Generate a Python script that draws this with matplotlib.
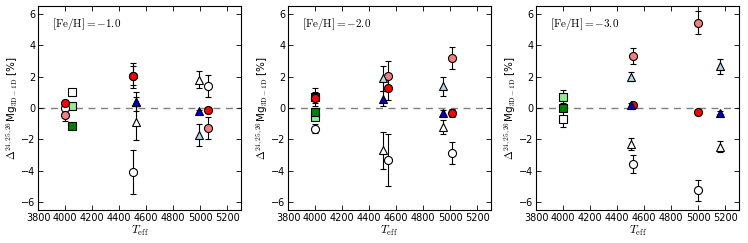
import matplotlib
matplotlib.use("Agg")
import matplotlib.pyplot as plt
import numpy as np

plt.rcParams['font.family'] = ['DejaVu Sans']
plt.rcParams['mathtext.fontset'] = 'cm'
plt.rcParams['xtick.direction'] = 'in'
plt.rcParams['ytick.direction'] = 'in'
plt.rcParams['xtick.top'] = True
plt.rcParams['ytick.right'] = True

feh_labels = ["-1.0", "-2.0", "-3.0"]

# ---- Panel 1: [Fe/H] = -1.0 ----
p1_circ_T = [4000, 4500, 5060]
p1_circ_open = [0.0, -4.1, 1.4]
p1_circ_open_err = [0.3, 1.4, 0.7]
p1_circ_pink = [-0.42, 2.05, -1.28]
p1_circ_pink_err = [0.4, 0.6, 0.72]
p1_circ_red = [0.32, 2.05, -0.12]
p1_circ_red_err = [0.2, 0.8, 0.15]
p1_tri_T = [4525, 4990]
p1_tri_open = [-0.88, 1.8]
p1_tri_open_err = [1.15, 0.55]
p1_tri_lb = [0.4, -1.72]
p1_tri_lb_err = [0.6, 0.68]
p1_tri_blue = [0.4, -0.22]
p1_tri_blue_err = [0.3, 0.1]
p1_sq_T = [4050]
p1_sq_open = [1.0]
p1_sq_open_err = [0.1]
p1_sq_lg = [0.1]
p1_sq_lg_err = [0.1]
p1_sq_green = [-1.15]
p1_sq_green_err = [0.1]

# ---- Panel 2: [Fe/H] = -2.0 ----
p2_circ_T = [4000, 4540, 5010]
p2_circ_open = [-1.32, -3.3, -2.88]
p2_circ_open_err = [0.3, 1.65, 0.7]
p2_circ_pink = [0.7, 2.05, 3.2]
p2_circ_pink_err = [0.6, 0.95, 0.72]
p2_circ_red = [0.62, 1.27, -0.34]
p2_circ_red_err = [0.3, 0.75, 0.25]
p2_tri_T = [4505, 4950]
p2_tri_open = [-2.7, -1.22]
p2_tri_open_err = [1.2, 0.45]
p2_tri_lb = [1.9, 1.38]
p2_tri_lb_err = [0.8, 0.6]
p2_tri_blue = [0.6, -0.32]
p2_tri_blue_err = [0.5, 0.2]
p2_sq_T = [4000]
p2_sq_open = [0.72]
p2_sq_open_err = [0.3]
p2_sq_lg = [-0.55]
p2_sq_lg_err = [0.15]
p2_sq_green = [-0.24]
p2_sq_green_err = [0.2]

# ---- Panel 3: [Fe/H] = -3.0 ----
p3_circ_T = [4520, 5000]
p3_circ_open = [-3.57, -5.25]
p3_circ_open_err = [0.58, 0.65]
p3_circ_pink = [3.33, 5.45]
p3_circ_pink_err = [0.5, 0.75]
p3_circ_red = [0.22, -0.25]
p3_circ_red_err = [0.1, 0.1]
p3_tri_T = [4500, 5160]
p3_tri_open = [-2.3, -2.48]
p3_tri_open_err = [0.4, 0.35]
p3_tri_lb = [2.0, 2.65]
p3_tri_lb_err = [0.3, 0.45]
p3_tri_blue = [0.2, -0.3]
p3_tri_blue_err = [0.1, 0.1]
p3_sq_T = [4000]
p3_sq_open = [-0.67]
p3_sq_open_err = [0.55]
p3_sq_lg = [0.73]
p3_sq_lg_err = [0.4]
p3_sq_green = [0.0]
p3_sq_green_err = [0.15]

panels = [
    dict(circ_T=p1_circ_T, circ=[(p1_circ_open, p1_circ_open_err), (p1_circ_pink, p1_circ_pink_err), (p1_circ_red, p1_circ_red_err)],
         tri_T=p1_tri_T, tri=[(p1_tri_open, p1_tri_open_err), (p1_tri_lb, p1_tri_lb_err), (p1_tri_blue, p1_tri_blue_err)],
         sq_T=p1_sq_T, sq=[(p1_sq_open, p1_sq_open_err), (p1_sq_lg, p1_sq_lg_err), (p1_sq_green, p1_sq_green_err)]),
    dict(circ_T=p2_circ_T, circ=[(p2_circ_open, p2_circ_open_err), (p2_circ_pink, p2_circ_pink_err), (p2_circ_red, p2_circ_red_err)],
         tri_T=p2_tri_T, tri=[(p2_tri_open, p2_tri_open_err), (p2_tri_lb, p2_tri_lb_err), (p2_tri_blue, p2_tri_blue_err)],
         sq_T=p2_sq_T, sq=[(p2_sq_open, p2_sq_open_err), (p2_sq_lg, p2_sq_lg_err), (p2_sq_green, p2_sq_green_err)]),
    dict(circ_T=p3_circ_T, circ=[(p3_circ_open, p3_circ_open_err), (p3_circ_pink, p3_circ_pink_err), (p3_circ_red, p3_circ_red_err)],
         tri_T=p3_tri_T, tri=[(p3_tri_open, p3_tri_open_err), (p3_tri_lb, p3_tri_lb_err), (p3_tri_blue, p3_tri_blue_err)],
         sq_T=p3_sq_T, sq=[(p3_sq_open, p3_sq_open_err), (p3_sq_lg, p3_sq_lg_err), (p3_sq_green, p3_sq_green_err)]),
]

circ_colors = ['white', '#f08080', '#ff0000']
tri_colors = ['white', '#add8e6', '#0000cd']
sq_colors = ['white', '#90ee90', '#008000']

fig = plt.figure(figsize=(7.48, 2.43), dpi=100)
lefts = [0.0512, 0.3854, 0.717]
for i, (pan, lab) in enumerate(zip(panels, feh_labels)):
    ax = fig.add_axes([lefts[i], 0.136, 0.2706, 0.839])
    ax.axhline(0, color='gray', ls='--', lw=1.0, dashes=(5, 4), zorder=1)
    for key, mk, cols, ms in [('sq', 's', sq_colors, 5.4), ('circ', 'o', circ_colors, 5.8), ('tri', '^', tri_colors, 5.8)]:
        T = pan[key + '_T']
        for (vals, errs), c in zip(pan[key], cols):
            ax.errorbar(T, vals, yerr=errs, fmt=mk, mfc=c, mec='black', mew=0.8,
                        ms=ms, ecolor='black', elinewidth=0.8, capsize=2.2, capthick=0.8, zorder=3)
    ax.set_xlim(3800, 5300)
    ax.set_ylim(-6.5, 6.5)
    ax.set_xticks(np.arange(3800, 5201, 200))
    ax.set_yticks(np.arange(-6, 7, 2))
    ax.tick_params(labelsize=7, length=3.5, width=0.6, pad=2)
    for s in ax.spines.values():
        s.set_linewidth(0.8)
    ax.set_xlabel(r'$T_{\rm eff}$', fontsize=8.5, labelpad=1)
    ax.set_ylabel(r'$\Delta^{24,25,26}$Mg$_{\rm 3D-1D}$ [%]', fontsize=7.5, labelpad=1)
    ax.text(0.068, 0.91, r'$[{\rm Fe/H}] = ' + lab + '$', transform=ax.transAxes,
            fontsize=8, va='center', ha='left')

fig.savefig('out.png', dpi=100, facecolor='white')
